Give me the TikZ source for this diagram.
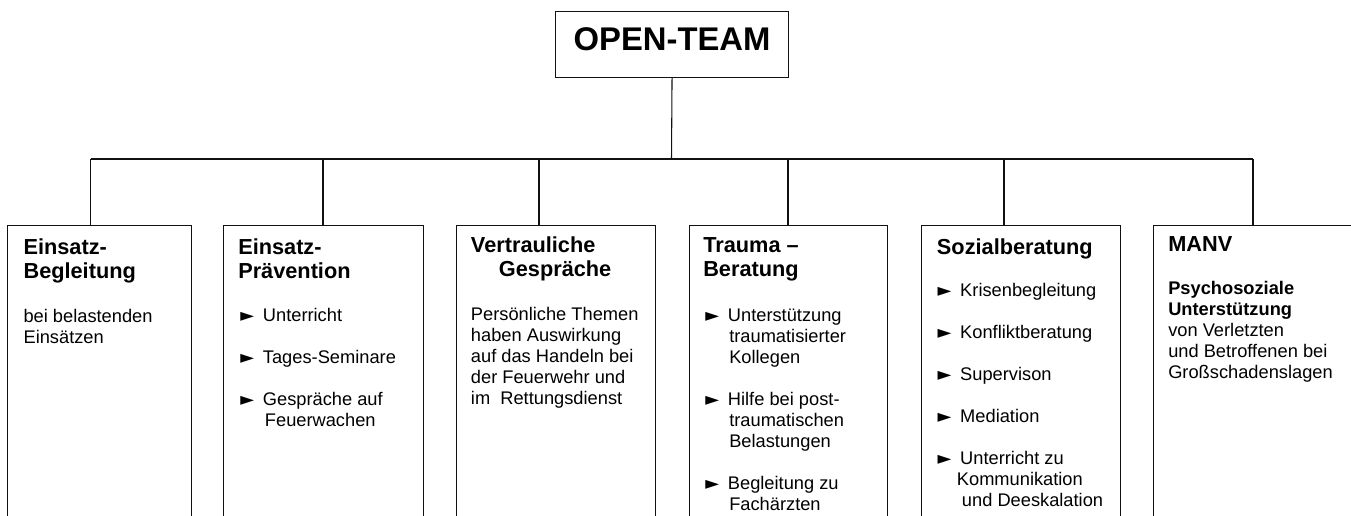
\documentclass[tikz,border=0pt]{standalone}
\usepackage{fontspec}
\setmainfont{Liberation Sans}
\newfontfamily\symfont{DejaVu Sans}
\usepackage{xcolor}
\definecolor{oblack}{HTML}{111111}

\tikzset{
	link/.style = {draw = oblack, line width = 0.8pt},
	panel/.style = {draw = oblack, line width = 0.8pt, anchor = north west, inner sep = 0pt, minimum height = 240pt},
	head/.style = {anchor = base west, align = left, inner sep = 0pt, font = \fontsize{16.3}{18}\selectfont\bfseries},
	body/.style = {anchor = base west, align = left, inner sep = 0pt, font = \fontsize{13.7}{15.75}\selectfont},
}
\newcommand{\bul}{\makebox[17pt][l]{\symfont\fontsize{13.5}{13.5}\selectfont ►}}
\newcommand{\ind}[1]{\hspace*{#1}}

\begin{document}
\begin{tikzpicture}[x = 0.75pt, y = -0.75pt]
	\useasboundingbox (0,0) rectangle (1351,515);
	% top
	\node[draw = oblack, line width = 0.8pt, anchor = north west, inner sep = 0pt, minimum width = 174.75pt, minimum height = 49.5pt, text height = 17.5pt, text depth = 8.5pt, font = \fontsize{24.6}{28}\selectfont\bfseries] (top) at (555,11) {OPEN-TEAM};
	\coordinate (bus) at (671.5,159);
	% boxes
	\node[panel, minimum width = 137.8pt] (begl) at (7,225) {};
	\node[panel, minimum width = 150pt] (praev) at (223,225) {};
	\node[panel, minimum width = 149.3pt] (vertr) at (456,225) {};
	\node[panel, minimum width = 148.5pt] (trauma) at (689,225) {};
	\node[panel, minimum width = 149.3pt] (sozial) at (921,225) {};
	\node[panel, minimum width = 150pt] (manv) at (1153,225) {};
	\coordinate (d1) at (90.7,225);
	\coordinate (d2) at (323,225);
	\coordinate (d3) at (539,225);
	\coordinate (d4) at (788,225);
	\coordinate (d5) at (1004,225);
	\coordinate (d6) at (1253,225);
	% connectors
	\draw[link] (top.south) -- (bus);
	\draw[link] (d1 |- bus) -- (d6 |- bus);
	\foreach \i in {1,...,6}
		\draw[link] (d\i |- bus) -- (d\i);
	% texts (placed at the baseline of their last line)
	\node[head] (beglH) at (23.3,278.3) {Einsatz-\\Begleitung};
	\node[body] (beglT) at (23.3,343.7) {bei belastenden\\Einsätzen};
	\node[head] (praevH) at (238,278) {Einsatz-\\Prävention};
	\node[body] (praevT) at (240,426) {\bul Unterricht\\[15.75pt]\bul Tages-Seminare\\[15.75pt]\bul Gespräche auf\\\ind{18.5pt}Feuerwachen};
	\node[head] (vertrH) at (470.7,276.7) {Vertrauliche\\\ind{21pt}Gespräche};
	\node[body] (vertrT) at (470.7,404.5) {Persönliche Themen\\haben Auswirkung\\auf das Handeln bei\\der Feuerwehr und\\im~~Rettungsdienst};
	\node[head] (traumaH) at (703,276.7) {Trauma –\\Beratung};
	\node[body] (traumaT) at (705,510) {\bul Unterstützung\\\ind{18pt}traumatisierter\\\ind{18pt}Kollegen\\[15.75pt]\bul Hilfe bei post-\\\ind{18pt}traumatischen\\\ind{18pt}Belastungen\\[15.75pt]\bul Begleitung zu\\\ind{18pt}Fachärzten};
	\node[head] (sozialH) at (936.7,254) {Sozialberatung};
	\node[body] (sozialT) at (937.3,506) {\bul Krisenbegleitung\\[15.75pt]\bul Konfliktberatung\\[15.75pt]\bul Supervison\\[15.75pt]\bul Mediation\\[15.75pt]\bul Unterricht zu\\\ind{14.5pt}Kommunikation\\\ind{18.3pt}und Deeskalation};
	\node[head] (manvH) at (1168,251.7) {MANV};
	\node[body] (manvT) at (1168,378.5) {\textbf{Psychosoziale}\\\textbf{Unterstützung}\\von Verletzten\\und Betroffenen bei\\Großschadenslagen};
\end{tikzpicture}
\end{document}
